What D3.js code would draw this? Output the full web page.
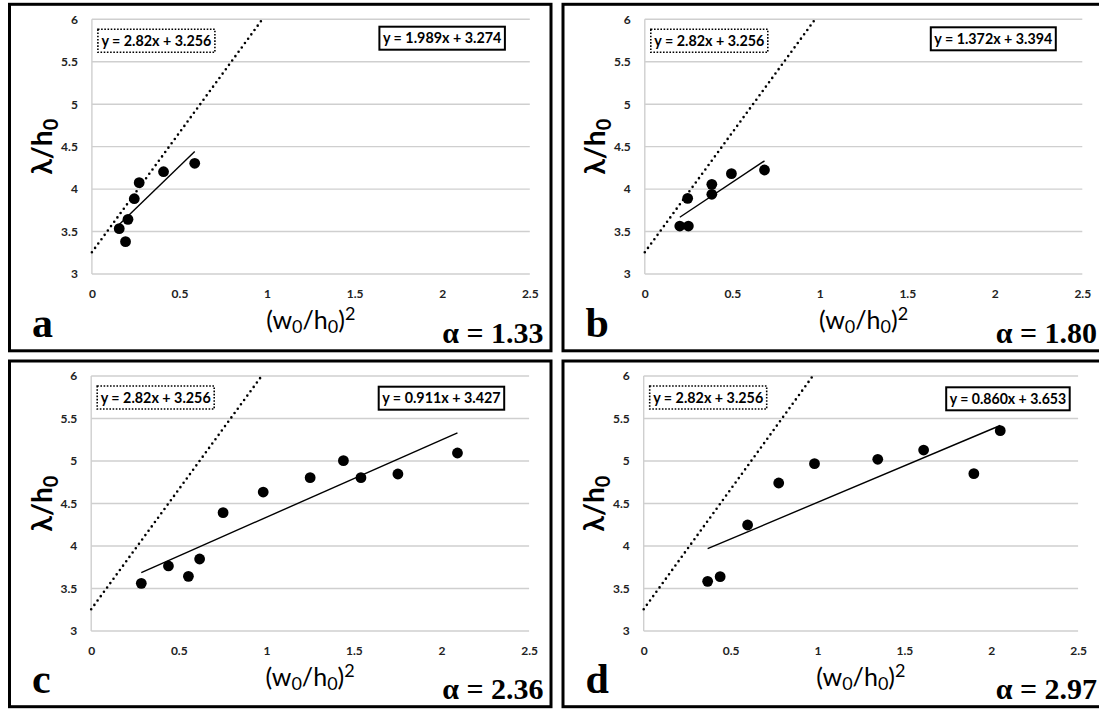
<!DOCTYPE html>
<html>
<head>
<meta charset="utf-8">
<script src="https://cdn.jsdelivr.net/npm/d3@7/dist/d3.min.js"></script>
<style>
  body { margin: 0; background: #fff; }
  svg { display: block; }
</style>
</head>
<body>
<div id="chart"></div>
<script>
var svgWidth = 1099;
var svgHeight = 711;

// panel labels and the shape factor of each panel
var panelLetters = ["a", "b", "c", "d"];
var alphaValues = ["1.33", "1.80", "2.36", "2.97"];

var xTicks = [0, 0.5, 1, 1.5, 2, 2.5];
var yTicks = [3, 3.5, 4, 4.5, 5, 5.5, 6];

// reference line (dotted) and the fitted lines
var refSlope = 2.82;
var refIntercept = 3.256;
var fitSlopes = [1.989, 1.372, 0.911, 0.860];
var fitIntercepts = [3.274, 3.394, 3.427, 3.653];

// measured points, (w0/h0)^2 vs lambda/h0
var xA = [0.156, 0.192, 0.206, 0.242, 0.270, 0.409, 0.587];
var yA = [3.534, 3.381, 3.644, 3.887, 4.076, 4.205, 4.304];
var xB = [0.200, 0.249, 0.245, 0.383, 0.383, 0.495, 0.684];
var yB = [3.565, 3.565, 3.891, 4.056, 3.939, 4.182, 4.225];
var xC = [0.286, 0.441, 0.555, 0.619, 0.753, 0.982, 1.250, 1.440, 1.540, 1.751, 2.091];
var yC = [3.561, 3.765, 3.643, 3.847, 4.392, 4.635, 4.804, 5.004, 4.804, 4.847, 5.094];
var xD = [0.368, 0.440, 0.598, 0.777, 0.983, 1.347, 1.611, 1.900, 2.052];
var yD = [3.584, 3.639, 4.247, 4.741, 4.969, 5.020, 5.129, 4.851, 5.357];

var xSeries = [xA, xB, xC, xD];
var ySeries = [yA, yB, yC, yD];

// where each panel sits on the page
var layout = [
  { left: 91.9, right: 529.8, top: 19.3, bottom: 274, frame: [9.5, 4.3, 551, 350.8], eqRight: 413, eqTop: 7.4, eqW: 125.5 },
  { left: 644.8, right: 1082.3, top: 19.3, bottom: 274, frame: [563, 4.3, 1106, 350.8], eqRight: 411, eqTop: 8, eqW: 125 },
  { left: 91.2, right: 529.1, top: 376, bottom: 631, frame: [9.5, 361, 551, 706.7], eqRight: 413, eqTop: 10.7, eqW: 125.5 },
  { left: 643.7, right: 1078.1, top: 376, bottom: 631, frame: [563, 361, 1106, 706.7], eqRight: 426, eqTop: 11.3, eqW: 123.5 }
];

var sans = "Lato, 'Open Sans', sans-serif";
var serif = "'Liberation Serif', 'DejaVu Serif', serif";
var fmt3 = d3.format(".3f");

var svg = d3.select("#chart")
  .append("svg")
  .attr("width", svgWidth)
  .attr("height", svgHeight);

panelLetters.forEach(function(letter, i) {
  var L = layout[i];
  var f = L.frame;

  // outer frame
  svg.append("rect")
    .attr("x", f[0])
    .attr("y", f[1])
    .attr("width", f[2] - f[0])
    .attr("height", f[3] - f[1])
    .attr("fill", "none")
    .attr("stroke", "#000")
    .attr("stroke-width", 3);

  var x = d3.scaleLinear().domain([0, 2.5]).range([L.left, L.right]);
  var y = d3.scaleLinear().domain([3, 6]).range([L.bottom, L.top]);

  var g = svg.append("g");

  // gridlines
  g.selectAll(".grid")
    .data(yTicks)
    .enter()
    .append("line")
    .attr("x1", x(0))
    .attr("x2", x(2.5))
    .attr("y1", d => y(d))
    .attr("y2", d => y(d))
    .attr("stroke", "#cfcfcf")
    .attr("stroke-width", 1.4);

  g.append("line")
    .attr("x1", x(0))
    .attr("x2", x(0))
    .attr("y1", y(3))
    .attr("y2", y(6))
    .attr("stroke", "#cfcfcf")
    .attr("stroke-width", 1.4);

  // axes (labels only)
  var bottomAxis = d3.axisBottom(x).tickValues(xTicks).tickFormat(d3.format("")).tickSize(0).tickPadding(15);
  var leftAxis = d3.axisLeft(y).tickValues(yTicks).tickFormat(d3.format("")).tickSize(0).tickPadding(14);

  var xg = g.append("g")
    .attr("transform", `translate(0, ${y(3)})`)
    .call(bottomAxis);
  var yg = g.append("g")
    .attr("transform", `translate(${x(0)}, 0)`)
    .call(leftAxis);

  [xg, yg].forEach(function(ax) {
    ax.select(".domain").remove();
    ax.selectAll("text")
      .attr("font-family", sans)
      .attr("font-weight", "bold")
      .attr("font-size", 12)
      .attr("fill", "#222");
  });

  // dotted reference line
  var xEnd = (6 - refIntercept) / refSlope;
  g.append("line")
    .attr("x1", x(0))
    .attr("y1", y(refIntercept))
    .attr("x2", x(xEnd))
    .attr("y2", y(6))
    .attr("stroke", "#000")
    .attr("stroke-width", 2.6)
    .attr("stroke-linecap", "round")
    .attr("stroke-dasharray", "0 5.4");

  // fitted line over the range of the data
  var xs = xSeries[i];
  var ys = ySeries[i];
  var xMin = d3.min(xs), xMax = d3.max(xs);
  g.append("line")
    .attr("x1", x(xMin))
    .attr("y1", y(fitSlopes[i] * xMin + fitIntercepts[i]))
    .attr("x2", x(xMax))
    .attr("y2", y(fitSlopes[i] * xMax + fitIntercepts[i]))
    .attr("stroke", "#000")
    .attr("stroke-width", 1.4);

  // points
  g.selectAll(".pt")
    .data(xs.map((d, k) => [d, ys[k]]))
    .enter()
    .append("circle")
    .attr("cx", d => x(d[0]))
    .attr("cy", d => y(d[1]))
    .attr("r", 5.4)
    .attr("fill", "#000");

  // equation boxes
  var dotLeft = L.left + 6;
  var dotTop = L.top + 10;
  g.append("rect")
    .attr("x", dotLeft)
    .attr("y", dotTop)
    .attr("width", 117)
    .attr("height", 23)
    .attr("fill", "#fff")
    .attr("stroke", "#000")
    .attr("stroke-width", 1.6)
    .attr("stroke-dasharray", "1.6 1.6");
  g.append("text")
    .attr("x", dotLeft + 58.5)
    .attr("y", dotTop + 16.5)
    .attr("text-anchor", "middle")
    .attr("font-family", sans)
    .attr("font-weight", "bold")
    .attr("font-size", 15.5)
    .attr("textLength", 110)
    .attr("lengthAdjust", "spacingAndGlyphs")
    .text(`y = ${refSlope}x + ${refIntercept}`);

  var solLeft = L.left + L.eqRight - L.eqW;
  var solTop = L.top + L.eqTop;
  g.append("rect")
    .attr("x", solLeft)
    .attr("y", solTop)
    .attr("width", L.eqW)
    .attr("height", 23)
    .attr("fill", "#fff")
    .attr("stroke", "#000")
    .attr("stroke-width", 2);
  g.append("text")
    .attr("x", solLeft + L.eqW / 2)
    .attr("y", solTop + 16.5)
    .attr("text-anchor", "middle")
    .attr("font-family", sans)
    .attr("font-weight", "bold")
    .attr("font-size", 15.5)
    .attr("textLength", L.eqW - 7)
    .attr("lengthAdjust", "spacingAndGlyphs")
    .text(`y = ${fmt3(fitSlopes[i])}x + ${fmt3(fitIntercepts[i])}`);

  // axis titles
  var midY = (L.top + L.bottom) / 2;
  var yt = g.append("text")
    .attr("transform", `translate(${L.left - 39.5}, ${midY}) rotate(-90)`)
    .attr("text-anchor", "middle")
    .attr("font-family", sans)
    .attr("font-weight", "bold")
    .attr("font-size", 28)
    .attr("fill", "#000");
  yt.append("tspan").text("λ/h");
  yt.append("tspan").attr("dy", 6).attr("font-size", 20).text("0");

  var xt = g.append("text")
    .attr("x", (L.left + L.right) / 2)
    .attr("y", L.bottom + 55)
    .attr("text-anchor", "middle")
    .attr("font-family", sans)
    .attr("font-size", 25)
    .attr("fill", "#000");
  xt.append("tspan").text("(w");
  xt.append("tspan").attr("dy", 4).attr("font-size", 18).text("0");
  xt.append("tspan").attr("dy", -4).text("/h");
  xt.append("tspan").attr("dy", 4).attr("font-size", 18).text("0");
  xt.append("tspan").attr("dy", -4).text(")");
  xt.append("tspan").attr("dy", -9).attr("font-size", 18).text("2");

  // panel letter and alpha
  g.append("text")
    .attr("x", f[0] + 22.5)
    .attr("y", f[3] - 14)
    .attr("font-family", serif)
    .attr("font-weight", "bold")
    .attr("font-size", 42)
    .attr("fill", "#000")
    .text(letter);

  g.append("text")
    .attr("x", f[0] + 534)
    .attr("y", f[3] - 8)
    .attr("text-anchor", "end")
    .attr("font-family", serif)
    .attr("font-weight", "bold")
    .attr("font-size", 30)
    .attr("fill", "#000")
    .text(`α = ${alphaValues[i]}`);
});
</script>
</body>
</html>
